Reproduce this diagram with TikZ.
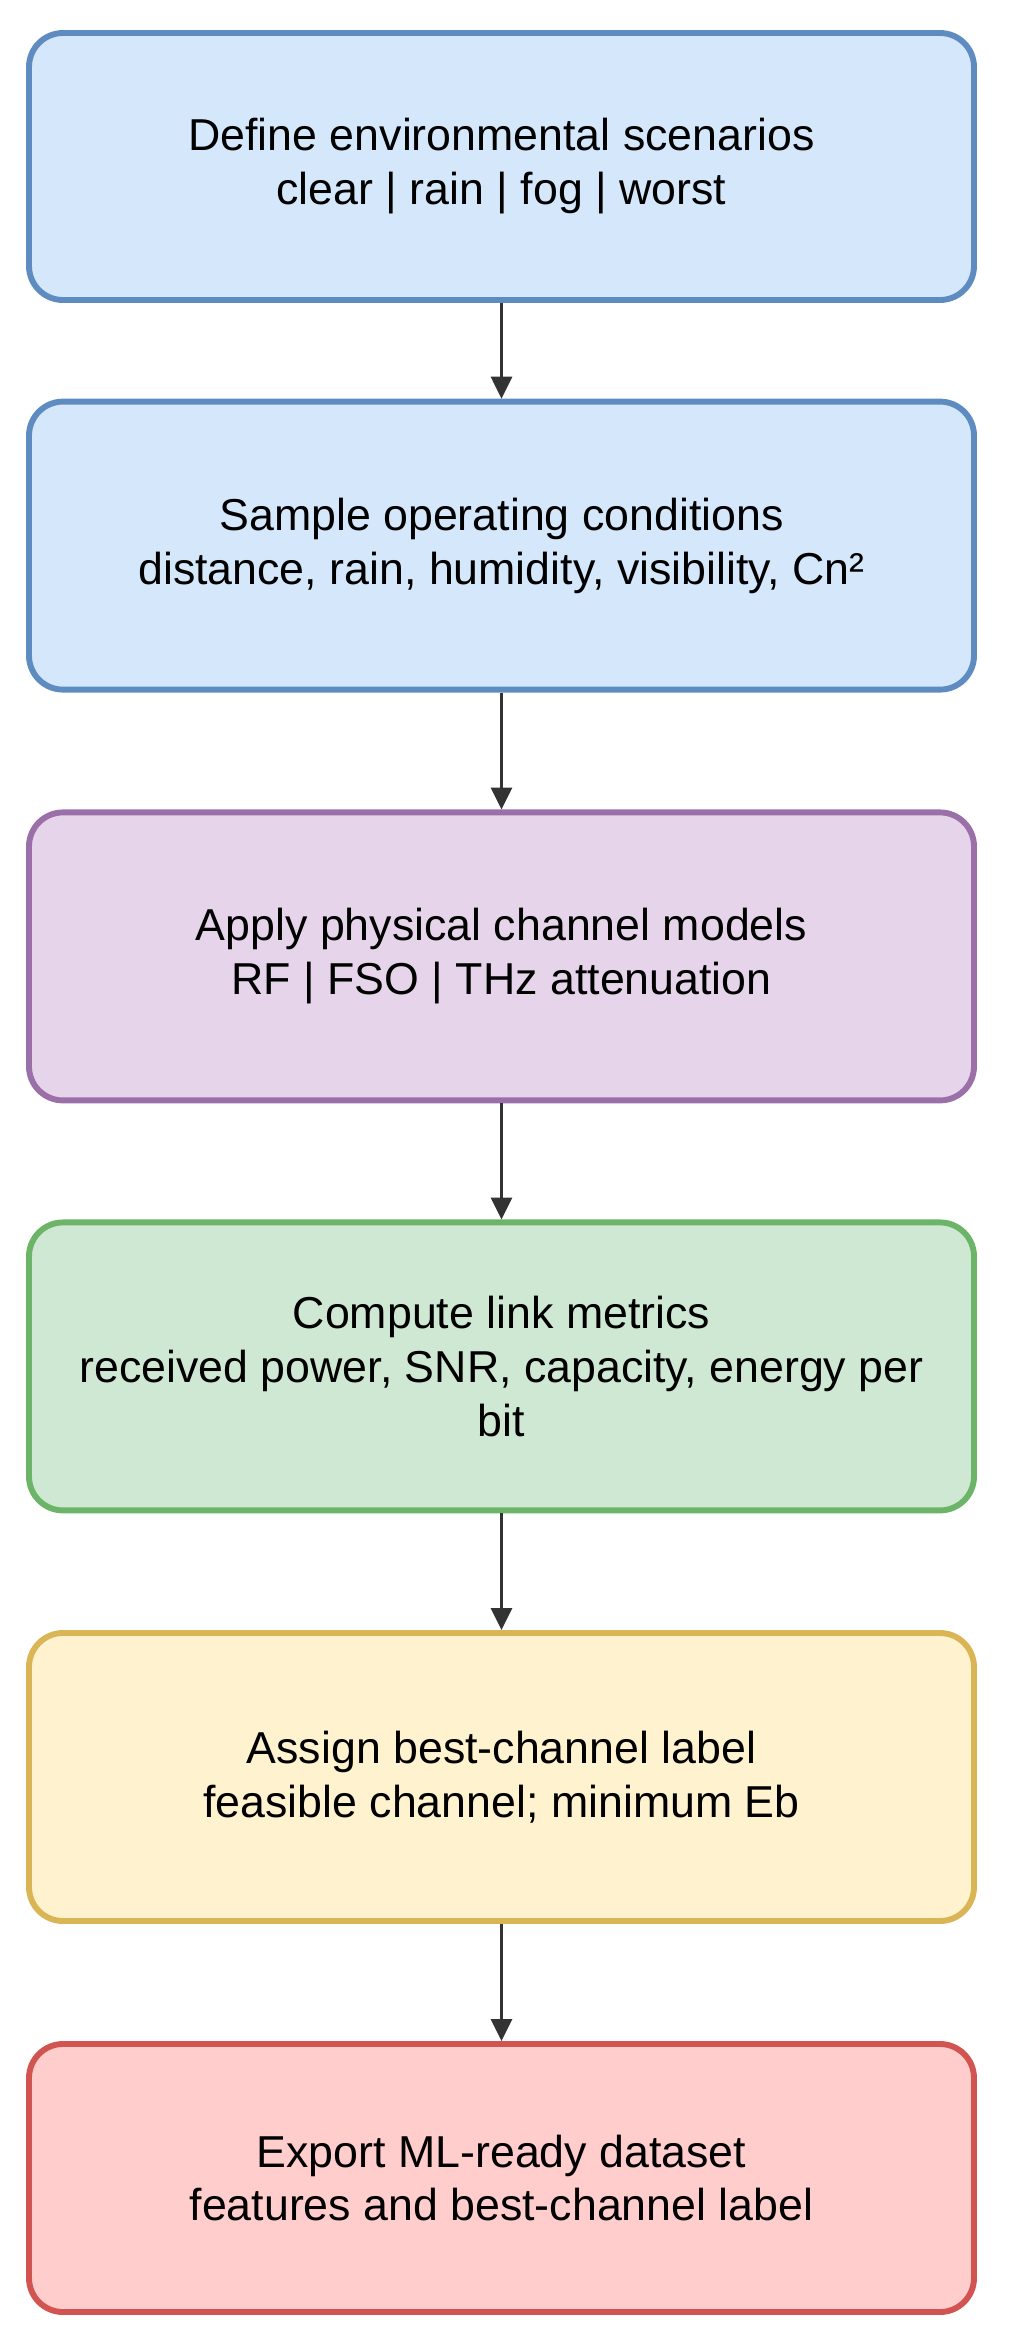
\documentclass[tikz,border=0pt]{standalone}
\usepackage{fontspec}
\setmainfont{Liberation Sans}
\usetikzlibrary{arrows.meta, positioning}
\definecolor{bluefill}{HTML}{D4E7FB}
\definecolor{bluestroke}{HTML}{5E8CC0}
\definecolor{purplefill}{HTML}{E6D4EA}
\definecolor{purplestroke}{HTML}{9B6FA8}
\definecolor{greenfill}{HTML}{CFE8D3}
\definecolor{greenstroke}{HTML}{6CB467}
\definecolor{yellowfill}{HTML}{FFF2CF}
\definecolor{yellowstroke}{HTML}{DAB556}
\definecolor{redfill}{HTML}{FFCDCC}
\definecolor{redstroke}{HTML}{D15450}
\definecolor{arrowgray}{HTML}{333333}

\begin{document}
\begin{tikzpicture}[
    every node/.style={font=\fontsize{31.8pt}{38.4pt}\selectfont},
    stage/.style={line width=4.2pt, rounded corners=0.85cm, minimum width=23.625cm, minimum height=7.2cm, align=center, inner sep=0pt},
    flow/.style={-{Triangle[length=15.6pt, width=15pt]}, line width=1.8pt, arrowgray}
]

\useasboundingbox (0,0) rectangle (25.3,-58.725);

% Scenario block
\node[stage, draw=bluestroke, fill=bluefill, minimum height=6.675cm] (scen) at (12.5375,-4.1625) {%
    Define environmental scenarios\\
    clear | rain | fog | worst
};

% Sampling block
\node[stage, draw=bluestroke, fill=bluefill] (samp) at (12.5375,-13.64) {%
    Sample operating conditions\\
    distance, rain, humidity, visibility, Cn²
};

% Channel models
\node[stage, draw=purplestroke, fill=purplefill] (chan) at (12.5375,-23.91) {%
    Apply physical channel models\\
    RF | FSO | THz attenuation
};

% Link metrics
\node[stage, draw=greenstroke, fill=greenfill] (metr) at (12.5375,-34.16) {%
    Compute link metrics\\
    received power, SNR, capacity, energy per\\
    bit
};

% Labelling
\node[stage, draw=yellowstroke, fill=yellowfill] (labl) at (12.5375,-44.425) {%
    Assign best-channel label\\
    feasible channel; minimum Eb
};

% Export block
\node[stage, draw=redstroke, fill=redfill, minimum height=6.7cm] (expo) at (12.5375,-54.45) {%
    Export ML-ready dataset\\
    features and best-channel label
};

% Pipeline arrows
\draw[flow] (scen.south) -- (samp.north);
\draw[flow] (samp.south) -- (chan.north);
\draw[flow] (chan.south) -- (metr.north);
\draw[flow] (metr.south) -- (labl.north);
\draw[flow] (labl.south) -- (expo.north);

\end{tikzpicture}
\end{document}
